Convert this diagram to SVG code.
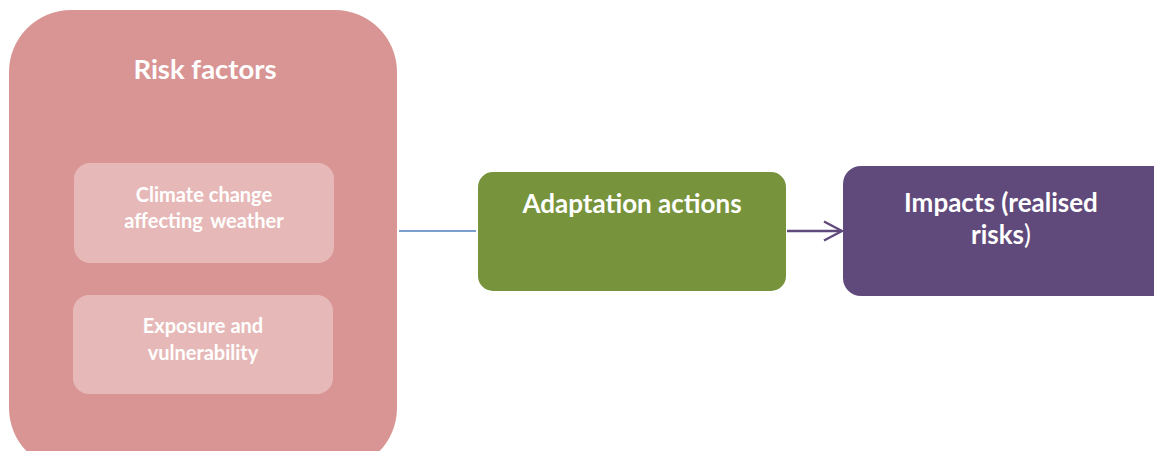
<svg xmlns="http://www.w3.org/2000/svg" width="1154" height="451" viewBox="0 0 1154 451">
<defs>
<marker id="chev" viewBox="0 0 20 22" refX="19" refY="11" markerWidth="20" markerHeight="22" markerUnits="userSpaceOnUse" orient="auto">
<path d="M1,1.5 L19,11 L1,20.5" fill="none" stroke="#604A7B" stroke-width="2.4"/>
</marker>
<style>
text{font-family:Lato,"Open Sans","Liberation Sans",sans-serif;font-weight:bold;fill:#fff;text-anchor:middle}
.inner{fill:#E6B9B8}
.t1{font-size:20px}
.t2{font-size:26px}
</style>
</defs>
<rect width="1154" height="451" fill="#fff"/>
<g id="risk-factors">
<rect x="9" y="10" width="388" height="460" rx="62" fill="#D99594"/>
<text x="205" y="79" style="font-size:27.5px">Risk factors</text>
</g>
<g id="climate-change">
<rect class="inner" x="74" y="163" width="260" height="100" rx="16"/>
<text class="t1" x="204" y="202">Climate change</text>
<text class="t1" x="204" y="228" word-spacing="3">affecting weather</text>
</g>
<g id="exposure">
<rect class="inner" x="73" y="295" width="260" height="99" rx="16"/>
<text class="t1" x="203" y="333">Exposure and</text>
<text class="t1" x="203" y="360">vulnerability</text>
</g>
<g id="adaptation">
<rect x="478" y="172" width="308" height="119" rx="15" fill="#77933C"/>
<text class="t2" x="632" y="213">Adaptation actions</text>
</g>
<g id="impacts">
<rect x="843" y="166" width="330" height="130" rx="18" fill="#604A7B"/>
<text class="t2" x="1001" y="212">Impacts (realised</text>
<text class="t2" x="1001" y="244">risks<tspan style="font-weight:normal">)</tspan></text>
</g>
<g id="connectors">
<line x1="399" y1="231" x2="476" y2="231" stroke="#4F81BD" stroke-width="1.5"/>
<line x1="787" y1="231" x2="842" y2="231" stroke="#604A7B" stroke-width="2.4" marker-end="url(#chev)"/>
</g>
</svg>
